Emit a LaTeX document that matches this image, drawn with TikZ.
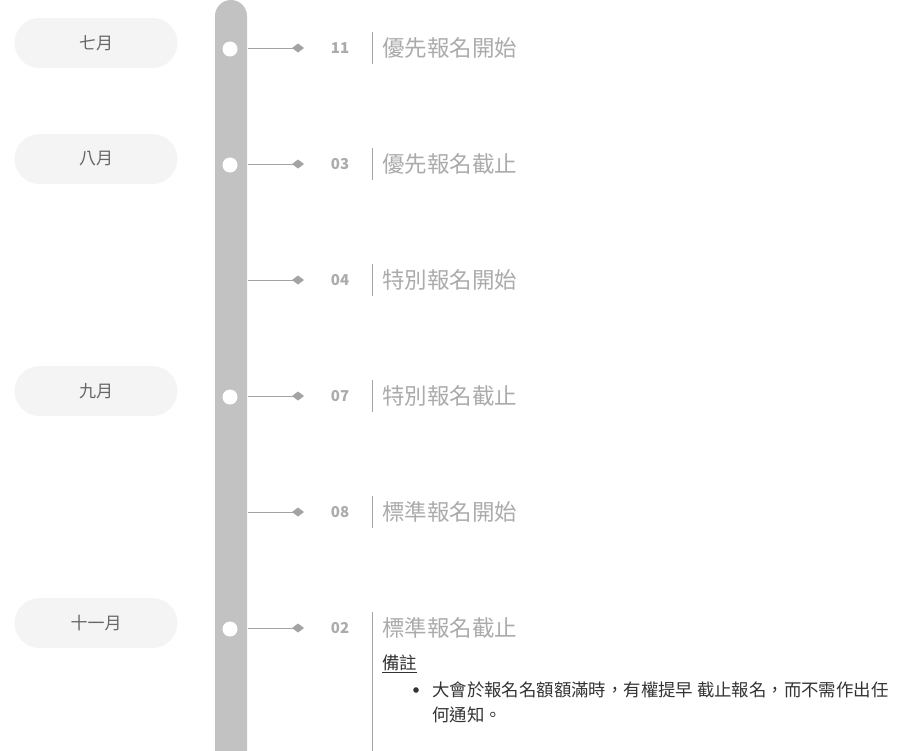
\documentclass[tikz,border=0pt]{standalone}
\usepackage{fontspec}
\setmainfont{Noto Sans CJK TC}
\usepackage{tikz}
\usetikzlibrary{positioning,arrows.meta}
\definecolor{barGray}{HTML}{C2C2C2}
\definecolor{pillGray}{HTML}{F4F4F4}
\definecolor{monthGray}{HTML}{666666}
\definecolor{lineGray}{HTML}{A3A3A3}
\definecolor{textGray}{HTML}{ABABAB}
\definecolor{noteGray}{HTML}{333333}

\begin{document}
\begin{tikzpicture}[x=1pt,y=-1pt,
    pill/.style={fill=pillGray, rounded corners=25pt, minimum width=163pt, minimum height=50pt,
        inner sep=0pt, text=monthGray, font=\fontsize{17}{17}\selectfont},
    dot/.style={circle, fill=white, inner sep=0pt, minimum size=15pt},
    link/.style={lineGray, line width=1pt, -{Diamond[length=12pt,width=9pt]}},
    day/.style={text=textGray, font=\fontsize{15}{15}\selectfont\bfseries},
    sep/.style={lineGray, line width=0.8pt},
    title/.style={anchor=west, inner sep=0pt, text=textGray, font=\fontsize{22.5}{22.5}\selectfont},
    note/.style={inner sep=0pt, text=noteGray, font=\fontsize{17.4}{25}\selectfont}]
    \useasboundingbox (0,0) rectangle (920,750);
    \clip (0,0) rectangle (920,750);
    % timeline bar
    \fill [barGray, rounded corners=16pt] (215,0) rectangle (247,800);
    % months
    \node [pill] (jul) at (96,43) {七月};
    \node [pill] (aug) at (96,159) {八月};
    \node [pill] (sep) at (96,391) {九月};
    \node [pill] (nov) at (96,623) {十一月};
    % events
    \foreach \y/\d/\t/\hasdot [count=\i] in {48/11/優先報名開始/1, 164/03/優先報名截止/1,
        280/04/特別報名開始/0, 396/07/特別報名截止/1, 512/08/標準報名開始/0, 628/02/標準報名截止/1}
    {
        \ifnum\hasdot=1 \node [dot] (dot\i) at (230,\y+1) {}; \fi
        \coordinate (s\i) at (248,\y);
        \coordinate (t\i) at (304,\y);
        \draw [link] (s\i) -- (t\i);
        \node [day] (n\i) at (340,\y) {\d};
        \node [title] (e\i) at (382,\y) {\t};
    }
    \foreach \i in {1,...,5}
        \draw [sep] ([xshift=-10pt,yshift=16pt]e\i.west) -- ([xshift=-10pt,yshift=-16pt]e\i.west);
    \draw [sep] ([xshift=-10pt,yshift=16pt]e6.west) -- ([xshift=-10pt,yshift=-130pt]e6.west);
    % note
    \node [note, anchor=west] (memo) at (382,664) {\underline{備註}};
    \fill [noteGray] (416,690) circle (2.8pt);
    \node [note, anchor=north west, align=left] (memotext) at (432,682)
        {大會於報名名額額滿時，有權提早 截止報名，而不需作出任\\何通知。};
\end{tikzpicture}
\end{document}
